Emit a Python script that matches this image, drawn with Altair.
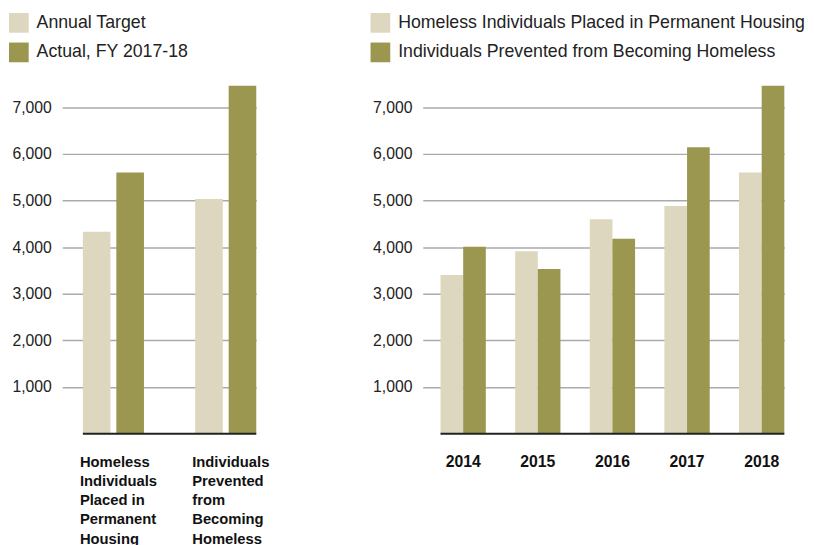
import json
import altair as alt
import pandas as pd

# ---- data ----
left_categories = [
    "Homeless Individuals Placed in Permanent Housing",
    "Individuals Prevented from Becoming Homeless",
]
left_label_lines = [
    ["Homeless", "Individuals", "Placed in", "Permanent", "Housing"],
    ["Individuals", "Prevented", "from", "Becoming", "Homeless"],
]
left_series = ["Annual Target", "Actual, FY 2017-18"]
left_target = [4330, 5030]
left_actual = [5600, 7460]

years = ["2014", "2015", "2016", "2017", "2018"]
right_series = [
    "Homeless Individuals Placed in Permanent Housing",
    "Individuals Prevented from Becoming Homeless",
]
housing = [3400, 3910, 4600, 4880, 5600]
prevented = [4010, 3530, 4180, 6140, 7460]

y_ticks = [1000, 2000, 3000, 4000, 5000, 6000, 7000]
y_max = 7500

LIGHT = "#dcd7be"
DARK = "#9b9650"
FONT = "Liberation Sans"

left_df = pd.DataFrame(
    [{"cat": c, "series": left_series[0], "value": v} for c, v in zip(left_categories, left_target)]
    + [{"cat": c, "series": left_series[1], "value": v} for c, v in zip(left_categories, left_actual)]
)
right_df = pd.DataFrame(
    [{"cat": y, "series": right_series[0], "value": v} for y, v in zip(years, housing)]
    + [{"cat": y, "series": right_series[1], "value": v} for y, v in zip(years, prevented)]
)
zero_df = pd.DataFrame({"value": [0]})

label_expr = " : ".join(
    f"datum.value == {json.dumps(c)} ? {json.dumps(lines)}"
    for c, lines in zip(left_categories[:-1], left_label_lines[:-1])
) + f" : {json.dumps(left_label_lines[-1])}"


def y_axis():
    return alt.Axis(
        values=y_ticks, format=",.0f", domain=False, ticks=False, labelPadding=11,
        labelFontSize=16, labelFont=FONT, labelColor="#222", gridColor="#aaaaaa",
        gridWidth=1.5, title=None,
    )


def panel(df, categories, series, width, pad_inner, pad_outer, inner_pad,
          x_axis, legend_x, offset):
    y_scale = alt.Scale(domain=[0, y_max], nice=False)
    bars = alt.Chart(df).mark_bar().encode(
        x=alt.X("cat:N", sort=categories, title=None, axis=x_axis,
                scale=alt.Scale(paddingInner=pad_inner, paddingOuter=pad_outer, align=1)),
        xOffset=alt.XOffset("series:N", sort=series,
                            scale=alt.Scale(paddingInner=inner_pad, paddingOuter=0)),
        y=alt.Y("value:Q", scale=y_scale, axis=y_axis()),
        color=alt.Color(
            "series:N", sort=series,
            scale=alt.Scale(domain=series, range=[LIGHT, DARK]),
            legend=alt.Legend(
                orient="none", legendX=legend_x, legendY=-72, title=None,
                symbolType="square", symbolSize=400, symbolStrokeWidth=0,
                symbolOpacity=1, labelFontSize=18, labelFont=FONT,
                labelColor="#222", labelOffset=8, rowPadding=10, padding=0,
                labelLimit=600,
            ),
        ),
    )
    base_line = alt.Chart(zero_df).mark_rule(color="#222", strokeWidth=2).encode(
        y=alt.Y("value:Q", scale=y_scale, axis=y_axis()),
        x=alt.value(offset), x2=alt.value(width),
    )
    return alt.layer(bars, base_line).properties(width=width, height=355)


left_axis = alt.Axis(
    domain=False, ticks=False, labelAngle=0, labelAlign="left",
    labelOffset=-34, labelBaseline="top", labelPadding=21, labelFontSize=15,
    labelFontWeight="bold", labelFont=FONT, labelColor="#111",
    labelLineHeight=19.5, labelExpr=label_expr, labelOverlap=False, labelLimit=300,
)
right_axis = alt.Axis(
    domain=False, ticks=False, labelAngle=0, labelBaseline="top", labelPadding=20,
    labelFontSize=16, labelFontWeight="bold", labelFont=FONT, labelColor="#111",
    labelOverlap=False,
)

left = panel(left_df, left_categories, left_series, 197, 0.456, 0.092, 0.176,
             left_axis, -54, 21)
right = panel(right_df, years, right_series, 367, 0.393, 0.119, 0.0,
              right_axis, -53, 18)

chart = (
    alt.hconcat(left, right, spacing=103)
    .resolve_scale(color="independent", x="independent", y="independent",
                   xOffset="independent")
    .properties(padding={"left": 1, "top": 1, "right": 0, "bottom": 0},
                background="white")
    .configure_view(stroke=None)
)

chart.save("out.html", embed_options={"renderer": "svg", "actions": False})
